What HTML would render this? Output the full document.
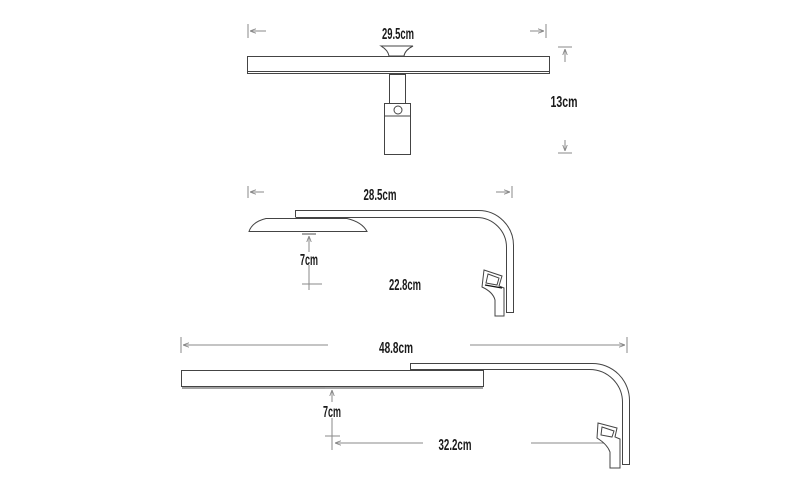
<!DOCTYPE html>
<html><head><meta charset="utf-8"><style>
html,body{margin:0;padding:0;background:#fff;}
svg{display:block;}
text{font-family:"Liberation Sans",sans-serif;font-size:16px;font-weight:bold;fill:#1a1a1a;text-anchor:middle;}
.d{stroke:#8a8a8a;stroke-width:1;fill:none;}
.o{stroke:#444;stroke-width:1;fill:#fff;}
</style></head><body>
<svg width="800" height="494" viewBox="0 0 800 494" xmlns="http://www.w3.org/2000/svg">
<defs>
<marker id="a" viewBox="0 0 8 8" refX="8" refY="4" markerWidth="6" markerHeight="6" orient="auto"><path d="M0,1 L8,4 L0,7" fill="none" stroke="#8a8a8a" stroke-width="1.2"/></marker>
</defs>
<!-- TOP -->
<line class="d" x1="248" y1="24" x2="248" y2="38"/>
<line class="d" x1="266" y1="31" x2="250" y2="31" marker-end="url(#a)"/>
<line class="d" x1="546" y1="24" x2="546" y2="38"/>
<line class="d" x1="530" y1="31" x2="544" y2="31" marker-end="url(#a)"/>
<text x="398" y="39" textLength="32" lengthAdjust="spacingAndGlyphs">29.5cm</text>
<line class="d" x1="558" y1="47" x2="572" y2="47"/>
<line class="d" x1="565" y1="62" x2="565" y2="49" marker-end="url(#a)"/>
<line class="d" x1="558" y1="153" x2="572" y2="153"/>
<line class="d" x1="565" y1="140" x2="565" y2="151" marker-end="url(#a)"/>
<text x="564" y="107" textLength="27" lengthAdjust="spacingAndGlyphs">13cm</text>
<rect class="o" x="247.5" y="56.5" width="302" height="17"/>
<line class="o" x1="248" y1="71.5" x2="549" y2="71.5"/>
<path class="o" d="M381,46 L413,46 Q405,50 404,56 L389,56 Q388,50 381,46 Z"/>
<rect class="o" x="389.5" y="74.5" width="16" height="29"/>
<rect class="o" x="384.5" y="103.5" width="26" height="51"/>
<line class="o" x1="385" y1="116" x2="410" y2="116"/>
<circle class="o" cx="398" cy="110" r="4"/>
<!-- MIDDLE -->
<line class="d" x1="248" y1="186" x2="248" y2="198"/>
<line class="d" x1="264" y1="192" x2="250" y2="192" marker-end="url(#a)"/>
<line class="d" x1="512" y1="186" x2="512" y2="198"/>
<line class="d" x1="496" y1="192" x2="510" y2="192" marker-end="url(#a)"/>
<text x="380" y="200" textLength="33" lengthAdjust="spacingAndGlyphs">28.5cm</text>
<path class="o" d="M295.5,217 L295.5,210.5 L478,210.5 A35,35 0 0 1 513.5,246 L513.5,312.5 L506.5,312.5 L506.5,248 A30,30 0 0 0 476,217.5 L295.5,217.5"/>
<path class="o" d="M249,231.5 Q252,222 266,218.5 L347,218.5 Q362,222 367,231.5 Z"/>
<line stroke="#888" stroke-width="1.5" x1="302" y1="234" x2="316" y2="234"/>
<line class="d" x1="309" y1="252" x2="309" y2="236" marker-end="url(#a)"/>
<line class="d" x1="309" y1="265" x2="309" y2="290"/>
<line class="d" x1="302" y1="284" x2="322" y2="284"/>
<text x="309" y="265" textLength="18" lengthAdjust="spacingAndGlyphs">7cm</text>
<text x="405" y="290" textLength="32" lengthAdjust="spacingAndGlyphs">22.8cm</text>
<path class="o" d="M484,270 L502,276 L499,286 L504,288 L504,316 L495,316 L495,300 Q493,292 482,287 Z"/>
<path class="o" d="M488,274 L499,278 L497,285 L486,283 Z"/>
<line stroke="#111" stroke-width="1.3" x1="485" y1="285" x2="502" y2="288"/>
<!-- BOTTOM -->
<line class="d" x1="181" y1="337" x2="181" y2="353"/>
<line class="d" x1="328" y1="345" x2="183" y2="345" marker-end="url(#a)"/>
<line class="d" x1="627" y1="337" x2="627" y2="353"/>
<line class="d" x1="470" y1="345" x2="625" y2="345" marker-end="url(#a)"/>
<text x="396" y="353" textLength="34" lengthAdjust="spacingAndGlyphs">48.8cm</text>
<path class="o" d="M410.5,371 L410.5,363.5 L592,363.5 A37,37 0 0 1 629.5,401 L629.5,464.5 L622.5,464.5 L622.5,403 A33,33 0 0 0 589,369.5 L410.5,369.5"/>
<rect class="o" x="181.5" y="370.5" width="302" height="16"/>
<line class="o" x1="182" y1="388" x2="483" y2="388"/>
<line stroke="#888" stroke-width="1.5" x1="325" y1="388" x2="340" y2="388"/>
<line class="d" x1="332" y1="402" x2="332" y2="390" marker-end="url(#a)"/>
<line class="d" x1="332" y1="418" x2="332" y2="450"/>
<line class="d" x1="325" y1="436" x2="340" y2="436"/>
<text x="332" y="417" textLength="18" lengthAdjust="spacingAndGlyphs">7cm</text>
<line class="d" x1="423" y1="443" x2="335" y2="443" marker-end="url(#a)"/>
<line class="d" x1="531" y1="443" x2="617" y2="443" marker-end="url(#a)"/>
<text x="455" y="450" textLength="33" lengthAdjust="spacingAndGlyphs">32.2cm</text>
<path class="o" d="M598,423 L617,428 L615,437 L620,439 L620,468 L610,468 L610,452 Q607,444 597,438 Z"/>
<path class="o" d="M602,427 L614,431 L612,437 L601,435 Z"/>
</svg>
</body></html>
